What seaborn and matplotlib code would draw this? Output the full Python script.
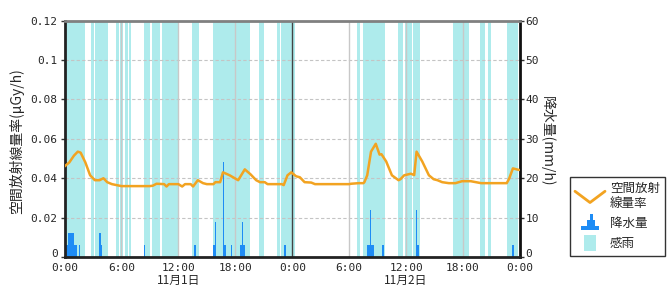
import matplotlib
matplotlib.use("Agg")
import matplotlib.pyplot as plt
import seaborn as sns
import pandas as pd
from matplotlib.legend_handler import HandlerBase
from matplotlib.lines import Line2D
from matplotlib.patches import Polygon, Rectangle, Patch

# ---------------- data (hours from 11/1 0:00) ----------------
dose_hours = [0.0, 0.5, 1.0, 1.4, 1.7, 2.2, 2.7, 3.2, 3.7, 4.1, 4.5, 5.0, 5.5, 6.0, 7.0,
              8.0, 9.0, 9.3, 9.7, 10.5, 10.75, 11.0, 12.0, 12.4, 12.7, 13.3, 13.55, 14.05,
              14.6, 15.0, 15.7, 15.9, 16.4, 16.7, 17.4, 18.3, 19.0, 19.6, 20.2, 20.6, 21.1,
              21.4, 22.9, 23.1, 23.5, 23.9, 24.4, 24.8, 25.3, 26.0, 26.4, 28.0, 30.0, 30.2,
              31.0, 31.5, 31.6, 31.9, 32.3, 32.8, 33.2, 33.4, 33.9, 34.5, 35.2, 35.4, 35.8,
              36.5, 36.85, 37.1, 37.7, 38.4, 38.9, 39.3, 39.8, 40.5, 41.2, 41.9, 42.8, 43.9,
              45.4, 46.6, 46.85, 47.25, 47.9]
dose_values = [0.046, 0.048, 0.0515, 0.0535, 0.053, 0.048, 0.0415, 0.039, 0.039, 0.040, 0.038,
               0.037, 0.0365, 0.036, 0.036, 0.036, 0.036, 0.0362, 0.0372, 0.037, 0.0358, 0.037,
               0.037, 0.0358, 0.037, 0.037, 0.0358, 0.039, 0.0375, 0.037, 0.037, 0.038, 0.038,
               0.043, 0.0415, 0.039, 0.0445, 0.042, 0.039, 0.038, 0.038, 0.037, 0.037, 0.0365,
               0.0415, 0.043, 0.041, 0.0405, 0.038, 0.0378, 0.037, 0.037, 0.037, 0.0372, 0.0375,
               0.0375, 0.038, 0.0415, 0.0535, 0.0575, 0.052, 0.0522, 0.0485, 0.0415, 0.039,
               0.0395, 0.0415, 0.0423, 0.0416, 0.0535, 0.0485, 0.0415, 0.0395, 0.039, 0.038,
               0.0375, 0.0375, 0.0385, 0.0385, 0.0375, 0.0375, 0.0375, 0.0397, 0.045, 0.0442]

rain_hours = [0.0, 0.167, 0.333, 0.5, 0.667, 0.833, 1.0, 1.167, 1.5, 3.667, 3.833, 8.333,
              13.667, 15.667, 15.833, 16.667, 16.833, 17.5, 18.5, 18.667, 18.833, 23.167,
              31.833, 32.0, 32.167, 32.333, 32.5, 33.5, 37.0, 37.167, 47.167]
rain_values = [3, 3, 6, 6, 6, 6, 3, 3, 3, 6, 3, 3,
               3, 3, 9, 24, 3, 3, 3, 9, 3, 3,
               3, 3, 12, 3, 3, 3, 12, 3, 3]

sense_start = [0.0, 2.8, 3.25, 5.45, 5.9, 6.35, 6.75, 8.35, 9.2, 10.25, 13.45, 15.6, 20.5,
               22.4, 22.85, 30.8, 31.45, 35.15, 35.85, 36.7, 40.9, 42.05, 43.8, 44.6, 46.65]
sense_end = [2.2, 3.15, 4.55, 5.75, 6.2, 6.7, 7.05, 9.0, 10.1, 12.0, 14.15, 19.6, 21.0,
             22.75, 24.3, 31.15, 33.75, 35.7, 36.6, 37.45, 41.95, 42.6, 44.3, 44.95, 47.8]

x_tick_hours = [0, 6, 12, 18, 24, 30, 36, 42, 48]
x_tick_labels = ["0:00", "6:00", "12:00", "18:00", "0:00", "6:00", "12:00", "18:00", "0:00"]
date_hours = [12, 36]
date_labels = ["11月1日", "11月2日"]
dose_ticks = [0, 0.02, 0.04, 0.06, 0.08, 0.10, 0.12]
dose_tick_labels = ["0", "0.02", "0.04", "0.06", "0.08", "0.1", "0.12"]
rain_ticks = [0, 10, 20, 30, 40, 50, 60]
rain_tick_labels = ["0", "10", "20", "30", "40", "50", "60"]

# ---------------- style ----------------
sns.set_style("white")
plt.rcParams['font.family'] = ['Noto Sans CJK JP', 'DejaVu Sans']
TICK_FONT = "DejaVu Sans Mono"

LINE_C = "#F2A321"
RAIN_C = "#1E8CF5"
SENSE_C = "#AEEBEC"

fig = plt.figure(figsize=(6.7, 3.0), dpi=100)
ax = fig.add_axes([64.5 / 670, 1 - 257 / 300, 455.5 / 670, (257 - 20.7) / 300])
ax2 = ax.twinx()
ax.set_zorder(ax2.get_zorder() + 1)
ax.patch.set_visible(False)

# rain axis (bottom layer): shading, grid, bars
for s, e in zip(sense_start, sense_end):
    ax2.axvspan(s, e, color=SENSE_C, lw=0, zorder=0.2)
for yt in rain_ticks[1:-1]:
    ax2.axhline(yt, color="#C4C4C4", lw=0.8, ls=(0, (3, 2)), zorder=0.5)
for xt in x_tick_hours[1:-1]:
    if xt != 24:
        ax2.axvline(xt, color="#C8C8C8", lw=1.0, zorder=0.5)
ax2.axvline(24, color="#444444", lw=1.0, zorder=0.6)

ax2.bar(rain_hours, rain_values, width=1 / 6, align="edge", color=RAIN_C, lw=0, zorder=2)

# dose line (top layer)
df = pd.DataFrame({"hour": dose_hours, "dose": dose_values})
sns.lineplot(data=df, x="hour", y="dose", ax=ax, color=LINE_C, linewidth=1.8, zorder=3)

ax.set_xlim(0, 48)
ax.set_ylim(0, 0.12)
ax2.set_ylim(0, 60)

ax.set_xticks(x_tick_hours)
ax.set_xticklabels(x_tick_labels, fontsize=8, family=TICK_FONT)
ax.set_yticks(dose_ticks)
ax.set_yticklabels(dose_tick_labels, fontsize=8, family=TICK_FONT)
ax2.set_yticks(rain_ticks)
ax2.set_yticklabels(rain_tick_labels, fontsize=8, family=TICK_FONT)
ax.get_yticklabels()[0].set_va("baseline")
ax2.get_yticklabels()[0].set_va("baseline")

ax.tick_params(axis="x", length=0, pad=4)
ax.tick_params(axis="y", direction="out", length=3, width=1, color="#333333", pad=2)
ax2.tick_params(axis="y", direction="out", length=3, width=1, color="#333333", pad=1)

ax.set_xlabel("")
ax.set_ylabel("空間放射線量率(μGy/h)", fontsize=10)
ax.yaxis.set_label_coords(-0.088, 0.49)
ax2.set_ylabel("降水量(mm/h)", fontsize=10, rotation=-90, va="center")
ax2.yaxis.set_label_coords(1.06, 0.49)

# spines
for sp in ["left", "bottom", "top"]:
    ax2.spines[sp].set_visible(False)
ax2.spines["right"].set_color("#111111")
ax2.spines["right"].set_linewidth(2)
ax.spines["right"].set_visible(False)
ax.spines["left"].set_color("#222222")
ax.spines["left"].set_linewidth(2)
ax.spines["bottom"].set_color("#222222")
ax.spines["bottom"].set_linewidth(2)
ax.spines["top"].set_color("#808080")
ax.spines["top"].set_linewidth(2)

# date labels
for h, lab in zip(date_hours, date_labels):
    ax.text(h, -0.1, lab, transform=ax.get_xaxis_transform(), ha="center", va="center",
            fontsize=8.5)


# ---------------- legend ----------------
class ZigzagHandler(HandlerBase):
    def create_artists(self, legend, orig_handle, xdescent, ydescent, width, height,
                       fontsize, trans):
        x0, y0 = -xdescent, -ydescent
        xs = [x0, x0 + width * 0.5, x0 + width]
        ys = [y0 + height * 0.85, y0 + height * 0.15, y0 + height * 0.85]
        return [Line2D(xs, ys, color=orig_handle.get_color(), linewidth=2, transform=trans)]


class RainHandler(HandlerBase):
    def create_artists(self, legend, orig_handle, xdescent, ydescent, width, height,
                       fontsize, trans):
        x0, y0 = -xdescent, -ydescent
        w, h = width, height
        pts = [(0.2, 0), (0.2, 0.3), (0.4, 0.3), (0.4, 0.65), (0.5, 0.65), (0.5, 1.0),
               (0.6, 1.0), (0.6, 0.65), (0.65, 0.65), (0.65, 0.3), (0.8, 0.3), (0.8, 0)]
        pts = [(x0 + px * w, y0 + py * h) for px, py in pts]
        return [Polygon(pts, closed=True, facecolor=orig_handle.get_facecolor(), lw=0,
                        transform=trans)]


class SenseHandler(HandlerBase):
    def create_artists(self, legend, orig_handle, xdescent, ydescent, width, height,
                       fontsize, trans):
        x0, y0 = -xdescent, -ydescent
        return [Rectangle((x0 + width * 0.3, y0), width * 0.4, height,
                          facecolor=orig_handle.get_facecolor(), lw=0, transform=trans)]


h_line = Line2D([], [], color=LINE_C)
h_rain = Patch(facecolor=RAIN_C)
h_sense = Patch(facecolor=SENSE_C)
leg = fig.legend([h_line, h_rain, h_sense], ["空間放射\n線量率", "降水量", "感雨"],
                 handler_map={h_line: ZigzagHandler(), h_rain: RainHandler(),
                              h_sense: SenseHandler()},
                 loc="upper left", bbox_to_anchor=(570 / 670, 1 - 177 / 300),
                 fontsize=9, frameon=True, fancybox=False, handlelength=2.4,
                 handleheight=1.6, handletextpad=0.4, labelspacing=0.35,
                 borderpad=0.4, borderaxespad=0)
leg.get_frame().set_edgecolor("#000000")
leg.get_frame().set_linewidth(1.0)

fig.savefig("out.png", dpi=100, facecolor="white")
